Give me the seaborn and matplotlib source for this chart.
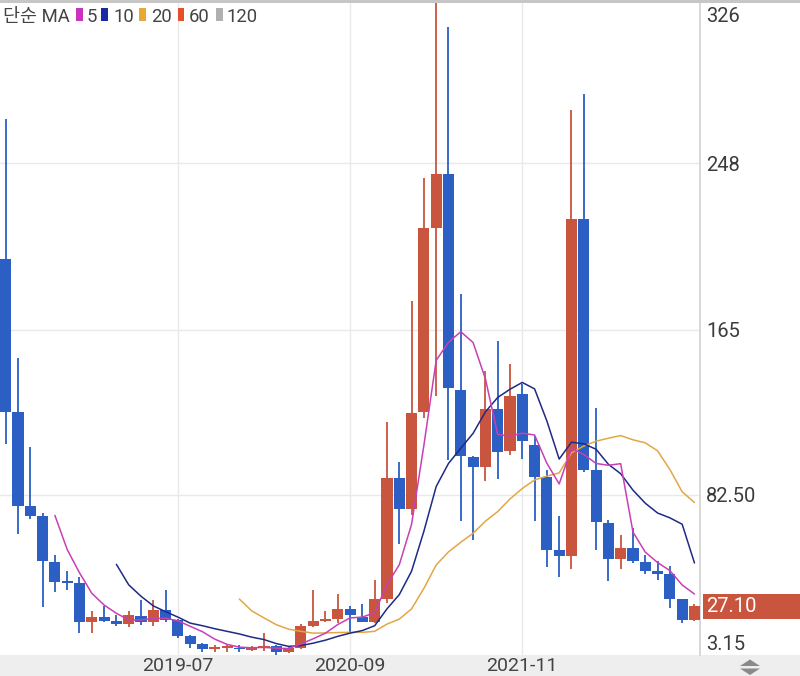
import numpy as np
import pandas as pd
import matplotlib
matplotlib.use("Agg")
import matplotlib.pyplot as plt
import matplotlib.transforms as mtransforms
from matplotlib.patches import Rectangle, Polygon
import seaborn as sns

# ---------------- data (monthly candles, 2018-05 .. 2023-01) ----------------
opens = [200, 124, 77, 72.2, 48.9, 39.1, 38.4, 19.2, 21.4, 19.6,
         18.3, 22.3, 19.2, 24.9, 20.1, 12.4, 8.2, 5.9, 6.4, 6.4,
         5.4, 6.5, 7.0, 4.4, 6.0, 17.2, 19.8, 20.5, 25.8, 21.7,
         19.0, 30.8, 91.1, 75.3, 124.0, 215.4, 242.7, 134.6, 101.6, 96.3,
         125.5, 104.5, 132.7, 107.5, 91.6, 55.2, 52.1, 220.1, 94.7, 68.6,
         50.6, 56.1, 49.3, 44.5, 42.9, 30.4, 20.1]
highs = [270, 151, 106.6, 73.4, 52.6, 44.4, 41.4, 24.6, 27.2, 22.4,
         24.7, 30.0, 30.0, 35.2, 20.5, 12.5, 8.5, 7.7, 7.7, 7.5,
         7.0, 13.5, 7.7, 6.6, 18.0, 35.0, 24.5, 33.0, 27.0, 28.3,
         40.2, 118.8, 98.8, 179.3, 240.6, 329.0, 316.0, 182.9, 101.8, 144.4,
         159.1, 147.9, 137.8, 112.1, 94.7, 72.1, 274.6, 282.5, 125.9, 69.9,
         62.5, 66.2, 52.4, 49.7, 46.9, 30.8, 28.0]
lows = [108, 63, 70.7, 26.7, 34.3, 35.2, 13.9, 13.9, 19.2, 17.4,
        16.6, 17.8, 17.4, 19.2, 11.1, 6.2, 4.2, 4.2, 4.2, 4.2,
        4.5, 4.5, 2.7, 3.9, 5.5, 16.5, 19.0, 18.8, 14.0, 19.0,
        18.5, 28.5, 57.9, 72.6, 120.9, 131.8, 100.0, 69.4, 60.0, 89.4,
        90.4, 102.4, 100.2, 69.5, 46.4, 41.4, 45.6, 93.8, 55.2, 39.6,
        45.6, 48.8, 43.3, 40.1, 26.2, 18.8, 19.5]
closes = [124, 77, 72.2, 49.4, 39.1, 38.6, 19.2, 21.4, 19.8, 18.3,
          22.4, 19.2, 24.9, 20.1, 12.4, 8.2, 5.9, 6.6, 6.7, 5.6,
          6.7, 7.0, 4.4, 6.0, 17.0, 19.8, 20.8, 25.8, 22.4, 19.0,
          30.8, 91.1, 75.3, 123.4, 215.4, 242.7, 136.0, 102.0, 96.3, 125.5,
          103.7, 131.7, 109.4, 91.6, 55.2, 52.1, 220.1, 94.7, 69.0, 50.6,
          56.1, 49.7, 44.5, 42.9, 30.8, 20.1, 27.1]

# moving-average lines (first point index given)
ma5_start = 4
ma5 = [72.3, 55.3, 43.7, 33.5, 27.6, 23.5, 20.2, 20.2, 20.9, 21.0,
       19.8, 17.0, 14.3, 10.6, 8.0, 6.6, 6.3, 6.5, 6.1, 5.9,
       8.2, 10.8, 13.6, 17.9, 21.2, 21.6, 23.8, 37.8, 47.7, 67.9,
       107.2, 149.6, 158.6, 163.9, 158.5, 140.5, 112.7, 111.8, 113.3, 112.4,
       98.3, 88.0, 105.7, 102.7, 98.2, 97.3, 98.1, 64.0, 54.0, 48.8,
       44.8, 37.6, 33.1]
ma10_start = 9
ma10 = [47.9, 37.7, 32.0, 27.2, 24.3, 21.6, 18.6, 17.3, 15.8, 14.5,
        13.2, 11.6, 10.4, 8.4, 7.0, 7.4, 8.6, 10.1, 12.0, 13.6,
        14.9, 17.3, 25.7, 32.8, 44.5, 64.4, 86.7, 98.2, 105.8, 113.2,
        123.9, 131.1, 135.2, 138.6, 135.4, 119.4, 100.4, 108.8, 108.0, 105.3,
        97.8, 93.1, 84.9, 78.4, 73.5, 71.1, 67.9, 48.6]
ma20_start = 19
ma20 = [30.6, 24.7, 21.2, 17.8, 15.6, 14.5, 13.6, 13.7, 13.9, 14.0,
        14.0, 14.5, 18.1, 20.6, 25.7, 35.9, 47.6, 54.1, 58.9, 63.4,
        69.4, 74.2, 80.5, 85.7, 90.0, 91.9, 93.5, 103.5, 106.9, 109.3,
        110.8, 112.1, 110.0, 108.5, 104.5, 95.2, 84.1, 78.7]

xtick_idx = [14, 28, 42]
xtick_labels = ["2019-07", "2020-09", "2021-11"]
ytick_vals = [3.15, 82.5, 165, 248, 326]
ytick_labels = ["3.15", "82.50", "165", "248", "326"]
legend_title = "단순 MA"
legend_periods = ["5", "10", "20", "60", "120"]
last_label = "27.10"

# ---------------- style ----------------
RED = "#c9553f"
BLUE = "#2b5fc3"
MA_COLORS = ["#c83fb6", "#1e2a86", "#e2a744", "#e4502c", "#b0b0b0"]
LEG_COLORS = ["#cc33bb", "#1a2aa6", "#e8a838", "#e4502c", "#b0b0b0"]
TXT = "#3c3c3c"

sns.set_theme(style="white")
plt.rcParams["font.family"] = ["Roboto", "Noto Sans CJK KR", "DejaVu Sans"]

W, H = 800, 676
fig = plt.figure(figsize=(W / 100, H / 100), dpi=100)
fig.patch.set_facecolor("white")


def fx(px):
    return px / W


def fy(py):
    return 1 - py / H


ax = fig.add_axes([0, fy(655), fx(700), (655 - 3) / H])
ax.set_facecolor("white")

df = pd.DataFrame({"i": np.arange(len(closes)), "o": opens, "h": highs,
                   "l": lows, "c": closes})
cols = np.where(df["c"] >= df["o"], RED, BLUE)

# grid
for g in [82.5, 165, 248]:
    ax.axhline(g, color="#e9e9e9", lw=1.0, zorder=0)
for g in xtick_idx:
    ax.axvline(g, color="#e9e9e9", lw=1.0, zorder=0)

# candles
ax.vlines(df["i"], df["l"], df["h"], colors=cols, lw=1.3, zorder=2)
body_bottom = np.minimum(df["o"], df["c"])
body_h = np.maximum((df["c"] - df["o"]).abs(), 0.8)
ax.bar(df["i"], body_h, bottom=body_bottom, width=0.9, color=cols,
       linewidth=0, zorder=3)

# moving averages
for start, vals, col in [(ma20_start, ma20, MA_COLORS[2]),
                         (ma10_start, ma10, MA_COLORS[1]),
                         (ma5_start, ma5, MA_COLORS[0])]:
    xs = np.arange(start, start + len(vals))
    sns.lineplot(x=xs, y=vals, color=col, lw=1.1, ax=ax, zorder=4)

ax.set_xlim(-0.463, 56.45)
ax.set_ylim(2.7, 327.8)

# axes / ticks
for s in ["left", "top", "bottom"]:
    ax.spines[s].set_visible(False)
ax.spines["right"].set_color("#d2d2d2")
ax.spines["right"].set_linewidth(1.2)
ax.yaxis.tick_right()
ax.set_yticks(ytick_vals, ytick_labels)
ax.tick_params(axis="y", length=0, pad=4.5, labelsize=14.5, labelcolor=TXT)
ax.set_xticks(xtick_idx, xtick_labels)
ax.tick_params(axis="x", length=0, pad=1.5, labelsize=14, labelcolor="#444444")
tl = ax.get_yticklabels()
tl[0].set_verticalalignment("bottom")
tl[-1].set_verticalalignment("top")
ax.set_xlabel("")
ax.set_ylabel("")
ax.grid(False)

# bottom strip & top border
fig.add_artist(Rectangle((0, 0), 1, fy(655), transform=fig.transFigure,
                         facecolor="#eeeeee", edgecolor="none", zorder=-1))
fig.add_artist(Rectangle((0, fy(3)), 1, 3 / H, transform=fig.transFigure,
                         facecolor="#c6c6c6", edgecolor="none", zorder=5))

# up/down icon
fig.add_artist(Polygon([(fx(740), fy(666)), (fx(760), fy(666)), (fx(750), fy(659.5))],
                       closed=True, transform=fig.transFigure,
                       facecolor="#8a8a8a", edgecolor="none"))
fig.add_artist(Polygon([(fx(740), fy(668.5)), (fx(760), fy(668.5)), (fx(750), fy(675))],
                       closed=True, transform=fig.transFigure,
                       facecolor="#8a8a8a", edgecolor="none"))

# last price badge
bt = mtransforms.blended_transform_factory(ax.transAxes, ax.transData)
last = closes[-1]
half = 12.5 / 2.006
ax.add_patch(Rectangle((703 / 700, last - half), 97 / 700, 2 * half,
                       transform=bt, facecolor=RED, edgecolor="none",
                       clip_on=False, zorder=6))
ax.text(706.5 / 700, last, last_label, transform=bt, color="white",
        fontsize=14.5, va="center", ha="left", zorder=7, clip_on=False)

# legend
LY = 17
LFS = 13.3
fig.text(fx(3), fy(LY), legend_title, fontsize=LFS, color="#444444",
         va="center", ha="left")
rect_x = [76, 101.5, 139, 177.5, 216]
num_x = [86.5, 114, 151.5, 188.5, 226.5]
for rx, nx, col, lab in zip(rect_x, num_x, LEG_COLORS, legend_periods):
    fig.add_artist(Rectangle((fx(rx), fy(21)), fx(6.5), 12.5 / H,
                             transform=fig.transFigure, facecolor=col,
                             edgecolor="none"))
    fig.text(fx(nx), fy(LY), lab, fontsize=LFS, color="#444444",
             va="center", ha="left")

fig.savefig("out.png", dpi=100)
